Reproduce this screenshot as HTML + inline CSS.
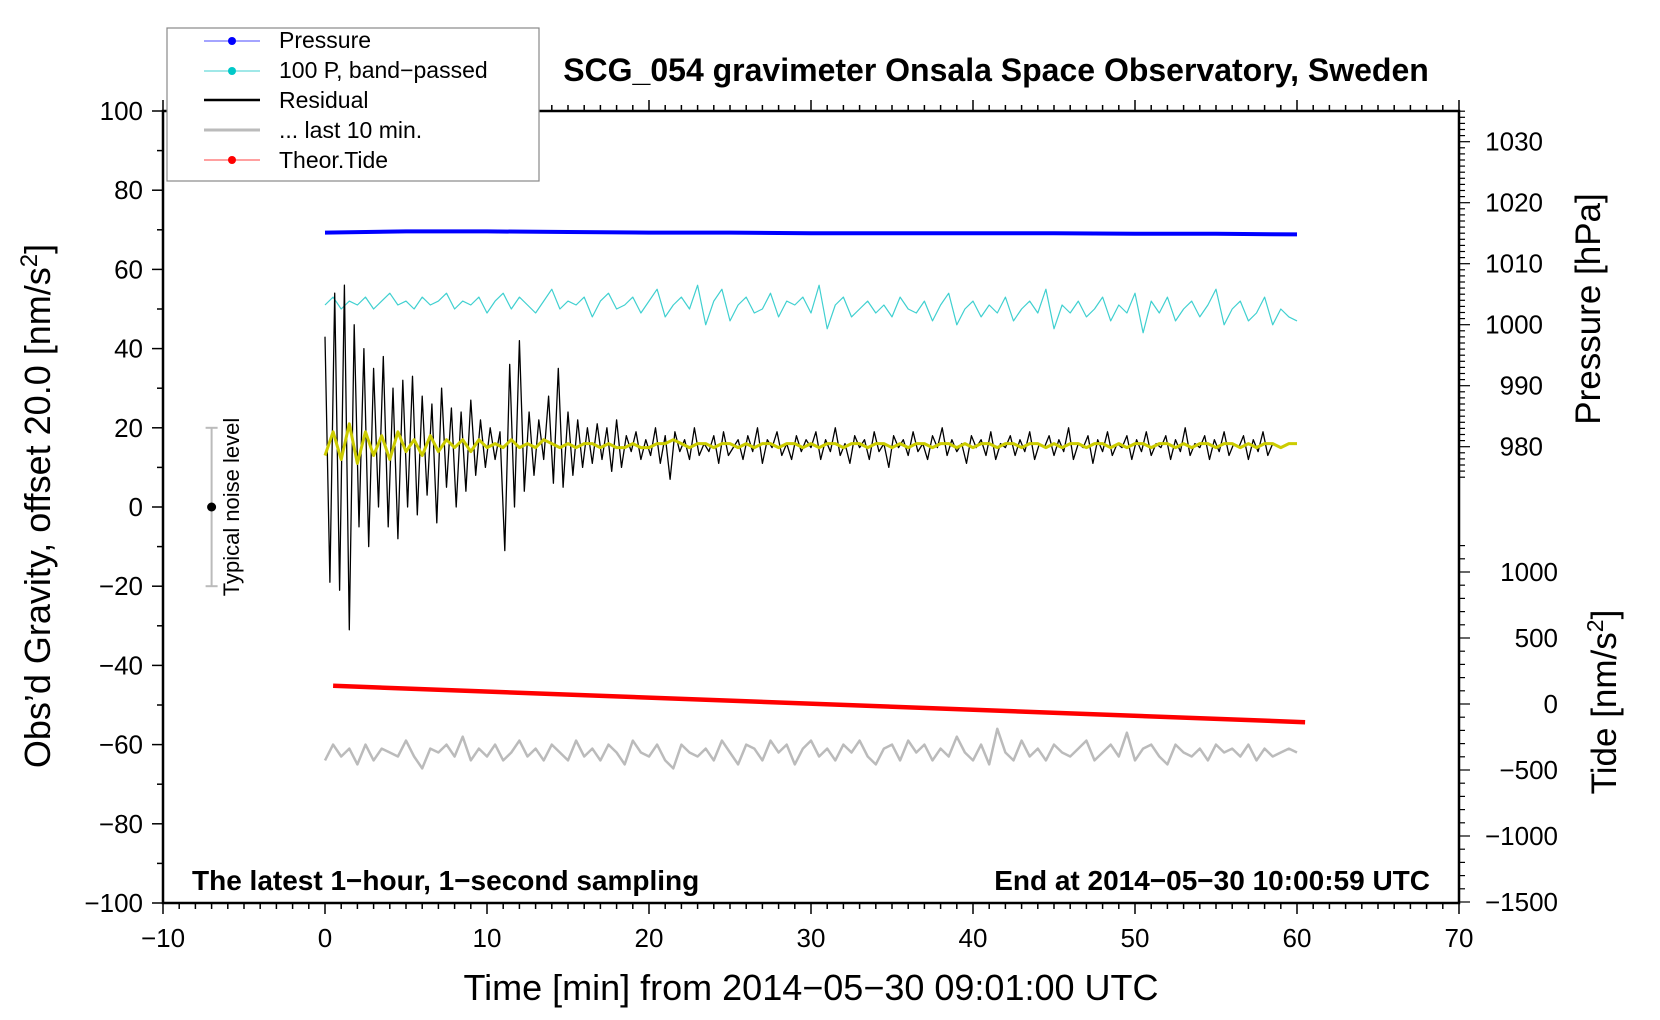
<!DOCTYPE html>
<html><head><meta charset="utf-8"><style>
body{margin:0;background:#fff;}
svg{display:block;font-family:"Liberation Sans",Arial,sans-serif;}
</style></head><body>
<svg id="chart" width="1660" height="1020" viewBox="0 0 1660 1020" xmlns="http://www.w3.org/2000/svg">
<g id="marks"></g>
<g id="axes"></g>
<text x="996" y="81" text-anchor="middle" font-size="32" font-weight="bold">SCG_054 gravimeter Onsala Space Observatory, Sweden</text>
<text x="192" y="890" font-size="28" font-weight="bold">The latest 1−hour, 1−second sampling</text>
<text x="1430" y="890" text-anchor="end" font-size="28" font-weight="bold">End at 2014−05−30 10:00:59 UTC</text>
<text x="811" y="1000" text-anchor="middle" font-size="36">Time [min] from 2014−05−30 09:01:00 UTC</text>
<text transform="translate(50,506) rotate(-90)" text-anchor="middle" font-size="36">Obs’d Gravity, offset 20.0 [nm/s<tspan dy="-13" font-size="24">2</tspan><tspan dy="13">]</tspan></text>
<text transform="translate(1600,309) rotate(-90)" text-anchor="middle" font-size="35">Pressure [hPa]</text>
<text transform="translate(1616,702) rotate(-90)" text-anchor="middle" font-size="35">Tide [nm/s<tspan dy="-13" font-size="23">2</tspan><tspan dy="13">]</tspan></text>
<g>
<rect x="167" y="28" width="372" height="153" fill="#fff" stroke="#888" stroke-width="1.2"/>
<g><line x1="204" y1="41" x2="260" y2="41" stroke="#4a4aff" stroke-width="1"/><circle cx="232" cy="41" r="4" fill="#0000ff"/><text x="279" y="48" font-size="23">Pressure</text></g>
<g><line x1="204" y1="71" x2="260" y2="71" stroke="#40d0d0" stroke-width="1"/><circle cx="232" cy="71" r="4" fill="#00c8c8"/><text x="279" y="78" font-size="23">100 P, band−passed</text></g>
<g><line x1="204" y1="100" x2="260" y2="100" stroke="#000" stroke-width="2.5"/><text x="279" y="108" font-size="23">Residual</text></g>
<g><line x1="204" y1="130" x2="260" y2="130" stroke="#bbb" stroke-width="3"/><text x="279" y="138" font-size="23">... last 10 min.</text></g>
<g><line x1="204" y1="160" x2="260" y2="160" stroke="#ff4040" stroke-width="1"/><circle cx="232" cy="160" r="4" fill="#ff0000"/><text x="279" y="168" font-size="23">Theor.Tide</text></g>
</g>
</svg>
<script>
// ---- data ----
const pressureTimes = [0, 5, 10, 15, 20, 25, 30, 35, 40, 45, 50, 55, 60];
const pressureValues = [1015.1, 1015.3, 1015.3, 1015.2, 1015.1, 1015.1, 1015.0, 1015.0, 1015.0, 1015.0, 1014.9, 1014.9, 1014.8];
const tideTimes = [0.5, 60.5];
const tideValues = [138, -138];
const bandStep = 0.5;
const bandValues = [51,53,50,52,51,53,50,52,54,51,52,50,53,51,52,54,50,52,51,53,49,52,54,50,53,51,49,52,55,50,52,51,53,48,52,54,50,51,53,49,52,55,48,51,53,50,56,46,52,55,47,51,53,49,50,54,48,52,51,53,49,56,45,51,53,48,50,52,49,51,48,53,50,49,52,47,51,54,46,50,52,48,51,49,53,47,50,52,49,55,45,51,49,52,48,50,53,47,51,49,54,44,52,49,53,47,50,52,48,51,55,46,50,52,47,49,53,46,50,48,47];
const residStep = 0.3;
const residValues = [43,-19,54,-21,56,-31,46,-5,40,-10,35,0,38,-5,30,-8,32,0,33,-2,28,3,26,-4,30,5,25,0,24,4,27,8,22,10,20,12,19,-11,36,0,42,4,24,8,22,12,28,6,35,5,24,8,22,10,20,11,21,12,20,9,
22,10,18,14,19,12,17,13,20,11,18,7,19,14,17,12,20,13,16,14,18,11,19,13,15,17,12,18,14,20,11,17,15,19,13,16,12,18,14,17,
15,19,12,17,14,20,13,16,11,18,15,17,12,19,14,16,10,18,15,17,13,19,14,16,12,18,15,20,13,17,14,16,11,18,15,17,13,19,12,16,
15,18,13,17,14,19,12,16,15,18,13,17,14,20,12,16,15,18,11,17,14,19,13,16,15,18,12,17,14,19,13,16,15,18,12,17,14,20,13,16,
15,18,12,17,14,19,13,16,15,18,12,17,14,19,13,16];
const smoothStep = 0.5;
const smoothValues = [13,19,12,21,11,19,13,18,12,19,14,17,13,18,14,17,15,17,14,17,15,16,15,17,15,16,15,17,16,15,16,15,16,16,15,16,15,15,16,15,15,16,16,17,16,15,16,16,15,16,16,15,16,15,16,16,15,16,16,15,16,15,16,16,15,16,16,15,16,16,15,16,15,16,16,15,16,16,15,16,15,16,16,15,16,16,15,16,16,15,16,15,16,16,15,16,16,15,16,15,16,16,15,16,16,15,16,15,16,16,15,16,16,15,16,15,16,16,15,16,16];
const grayStep = 0.5;
const grayValues = [-64,-60,-63,-61,-65,-60,-64,-61,-62,-63,-59,-63,-66,-61,-62,-60,-63,-58,-64,-61,-63,-60,-64,-62,-59,-63,-61,-64,-60,-62,-64,-59,-63,-61,-64,-60,-62,-65,-59,-62,-63,-60,-64,-66,-60,-62,-63,-61,-64,-59,-62,-65,-60,-61,-64,-59,-62,-60,-65,-61,-59,-63,-61,-64,-60,-62,-59,-63,-65,-61,-60,-64,-59,-62,-60,-64,-61,-63,-58,-62,-64,-60,-65,-56,-62,-64,-59,-63,-61,-64,-60,-62,-63,-61,-59,-64,-62,-60,-63,-57,-64,-61,-60,-63,-65,-60,-62,-63,-61,-64,-60,-62,-61,-63,-60,-64,-61,-63,-62,-61,-62];
const xTickLabels = ["−10","0","10","20","30","40","50","60","70"];
const xTickValues = [-10,0,10,20,30,40,50,60,70];
const yTickValues = [100,80,60,40,20,0,-20,-40,-60,-80,-100];
const pTickValues = [1030,1020,1010,1000,990,980];
const tTickValues = [1000,500,0,-500,-1000,-1500];

// ---- axes functions ----
const L=163,R=1459,T=111,B=903;
const xs = v => L + (v+10)/80*(R-L);
const ys = v => T + (100-v)/200*(B-T);
const ps = v => 141.7 + (1030-v)*6.1;
const ts = v => 704 - v*0.132;
const NS="http://www.w3.org/2000/svg";
const marks=document.getElementById('marks'), axes=document.getElementById('axes');
function mk(tag, parent, attrs){const e=document.createElementNS(NS,tag);for(const k in attrs)e.setAttribute(k,attrs[k]);parent.appendChild(e);return e;}
function fmt(v){return String(v).replace('-','−');}
function poly(pts,color,w,name){
  const e=mk('polyline',marks,{points:pts.map(p=>p[0].toFixed(1)+','+p[1].toFixed(1)).join(' '),fill:'none',stroke:color,'stroke-width':w,'stroke-linejoin':'round'});
  
  
}
poly(pressureTimes.map((t,i)=>[xs(t),ps(pressureValues[i])]),'#0000ff',4,'pressure-line');
poly(bandValues.map((v,i)=>[xs(i*bandStep),ys(v)]),'#40d0d0',1.2,'bandpassed-pressure-line');
poly(residValues.map((v,i)=>[xs(i*residStep),ys(v)]),'#000',1.3,'residual-line');
poly(smoothValues.map((v,i)=>[xs(i*smoothStep),ys(v)]),'#cccc00',3,'residual-smoothed-line');
poly(grayValues.map((v,i)=>[xs(i*grayStep),ys(v)]),'#bbb',2.5,'last-10-min-line');
poly(tideTimes.map((t,i)=>[xs(t),ts(tideValues[i])]),'#ff0000',4.5,'theoretical-tide-line');

// noise bar
const nb=mk('g',marks,{});


mk('line',nb,{x1:xs(-7),x2:xs(-7),y1:ys(20),y2:ys(-20),stroke:'#bbb','stroke-width':2});
mk('line',nb,{x1:xs(-7)-6,x2:xs(-7)+6,y1:ys(20),y2:ys(20),stroke:'#bbb','stroke-width':2});
mk('line',nb,{x1:xs(-7)-6,x2:xs(-7)+6,y1:ys(-20),y2:ys(-20),stroke:'#bbb','stroke-width':2});
mk('circle',nb,{cx:xs(-7),cy:ys(0),r:4.5,fill:'#000'});
const nt=mk('text',nb,{transform:`translate(${xs(-5.3)},${ys(0)}) rotate(-90)`,'text-anchor':'middle','font-size':22});
nt.textContent='Typical noise level';

// frame
const fr=mk('rect',axes,{x:L,y:T,width:R-L,height:B-T,fill:'none',stroke:'#000','stroke-width':2.5});


// x ticks
for(let v=-10;v<=70;v++){const maj=v%10===0;const x=xs(v);
  mk('line',axes,{x1:x,x2:x,y1:B,y2:B+(maj?11:6),stroke:'#000','stroke-width':1.5});
  mk('line',axes,{x1:x,x2:x,y1:T,y2:T-(maj?11:6),stroke:'#000','stroke-width':1.5});}
xTickValues.forEach((v,i)=>{const t=mk('text',axes,{x:xs(v),y:B+44,'text-anchor':'middle','font-size':26});
  
  
  t.textContent=xTickLabels[i];});
// left y ticks
for(let v=-100;v<=100;v+=10){const maj=v%20===0;const y=ys(v);
  mk('line',axes,{x1:L,x2:L-(maj?11:6),y1:y,y2:y,stroke:'#000','stroke-width':1.5});}
yTickValues.forEach(v=>{const t=mk('text',axes,{x:L-20,y:ys(v)+9,'text-anchor':'end','font-size':26});
  
  
  t.textContent=fmt(v);});
// pressure ticks
for(let v=975;v<=1035;v++){const maj=v%10===0;const y=ps(v);if(y<T)continue;
  mk('line',axes,{x1:R,x2:R+(maj?11:6),y1:y,y2:y,stroke:'#000','stroke-width':1.2});}
pTickValues.forEach(v=>{const t=mk('text',axes,{x:1543,y:ps(v)+9,'text-anchor':'end','font-size':26});
  
  
  t.textContent=fmt(v);});
// tide ticks
for(let v=-1500;v<=1200;v+=100){const maj=v%500===0;const y=ts(v);
  mk('line',axes,{x1:R,x2:R+(maj?11:6),y1:y,y2:y,stroke:'#000','stroke-width':1.2});}
tTickValues.forEach(v=>{const t=mk('text',axes,{x:1558,y:ts(v)+9,'text-anchor':'end','font-size':26});
  
  
  t.textContent=fmt(v);});
</script>
</body></html>
